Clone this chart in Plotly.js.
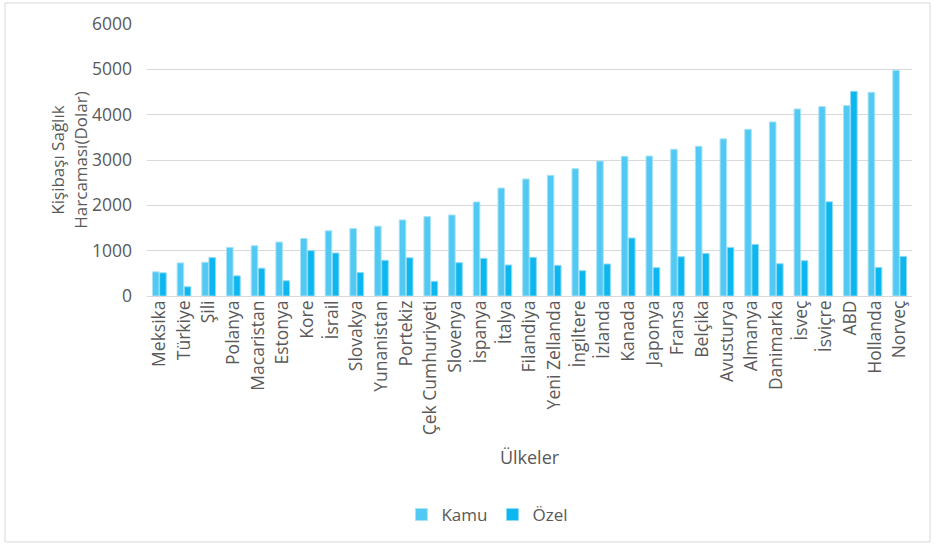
<!DOCTYPE html>
<html><head><meta charset="utf-8">
<script src="https://cdn.plot.ly/plotly-3.0.1.min.js"></script>
<style>body{margin:0;background:#fff}#c{width:935px;height:547px}</style>
</head><body><div id="c"></div>
<script>
const countries = ["Meksika","Türkiye","Şili","Polanya","Macaristan","Estonya","Kore","İsrail","Slovakya","Yunanistan","Portekiz","Çek Cumhuriyeti","Slovenya","İspanya","İtalya","Filandiya","Yeni Zellanda","İngiltere","İzlanda","Kanada","Japonya","Fransa","Belçika","Avusturya","Almanya","Danimarka","İsveç","İsviçre","ABD","Hollanda","Norveç"];
const kamu = [533,730,745,1073,1109,1190,1270,1438,1489,1540,1678,1750,1787,2074,2382,2581,2662,2809,2978,3081,3088,3238,3304,3466,3678,3840,4126,4178,4200,4493,4978];
const ozel = [511,204,847,445,613,336,1000,949,518,788,843,324,735,831,684,853,676,559,706,1279,625,866,940,1072,1138,712,778,2078,4515,631,874];

const font = {family: "Open Sans, sans-serif", color: "#595959"};
const data = [
  {type:"bar", name:"Kamu", x:countries, y:kamu, marker:{color:"#52C9F2", line:{color:"#A9E3F7", width:1}}},
  {type:"bar", name:"Özel", x:countries, y:ozel, marker:{color:"#0BB7EE", line:{color:"#8FDAF5", width:1}}}
];
const layout = {
  width:935, height:547,
  margin:{l:147, r:23, t:24, b:251},
  paper_bgcolor:"#fff", plot_bgcolor:"#fff",
  font:Object.assign({size:15}, font),
  bargap:0.42, bargroupgap:0.08,
  showlegend:true,
  legend:{orientation:"h", x:0.445, xanchor:"center", y:-0.805, yanchor:"middle", font:Object.assign({size:17},font), itemwidth:30, traceorder:"normal"},
  xaxis:{type:"category", tickangle:-90, tickfont:Object.assign({size:17.5},font), showgrid:false, showline:false, ticks:"",
         title:{text:"Ülkeler", font:Object.assign({size:18},font), standoff:17}},
  yaxis:{range:[0,6000], dtick:1000, gridcolor:"#D9D9D9", gridwidth:1, zeroline:true, zerolinecolor:"#D9D9D9", zerolinewidth:1,
         tickfont:Object.assign({size:17.5},font), ticks:"", ticklabelstandoff:14,
         title:{text:"Kişibaşı Sağlık<br>Harcaması(Dolar)", font:Object.assign({size:17},font), standoff:0}},
  shapes:[{type:"rect", xref:"paper", yref:"paper", x0:(5-147)/765, x1:(930-147)/765, y0:(296-542)/272, y1:(296-3)/272, line:{color:"#D9D9D9", width:1}, fillcolor:"rgba(0,0,0,0)", layer:"below"}]
};
Plotly.newPlot("c", data, layout, {displayModeBar:false, staticPlot:true});
</script></body></html>
